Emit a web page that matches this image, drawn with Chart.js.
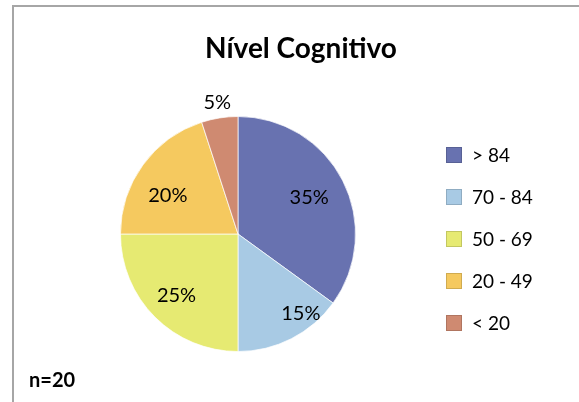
<!DOCTYPE html>
<html lang="pt">
<head>
  <meta charset="UTF-8">
  <title>Nível Cognitivo</title>
  <script src="https://cdn.jsdelivr.net/npm/chart.js"></script>
  <style>
    body {
      margin: 0;
      background: #fff;
      font-family: 'Lato', sans-serif;
    }

    #frame {
      position: absolute;
      left: 12px;
      top: 5px;
      width: 600px;
      height: 420px;
      border-top: 2px solid #a6a6a6;
      border-left: 2px solid #a6a6a6;
    }

    #chartContainer {
      position: absolute;
      left: 0;
      top: 0;
      width: 579px;
      height: 402px;
    }

    #title {
      position: absolute;
      left: 0;
      width: 602px;
      top: 30px;
      text-align: center;
      font-size: 28px;
      font-weight: 700;
      color: #000;
    }

    #note {
      position: absolute;
      left: 29px;
      top: 367px;
      font-size: 20px;
      font-weight: 700;
      color: #000;
    }
  </style>
</head>
<body>

  <div id="frame"></div>
  <div id="chartContainer">
    <canvas id="pieChart"></canvas>
  </div>
  <div id="title">Nível Cognitivo</div>
  <div id="note">n=20</div>

  <script>
    const categories = ['> 84', '70 - 84', '50 - 69', '20 - 49', '< 20'];
    const shares = [35, 15, 25, 20, 5];
    const sliceColors = ['#6872b0', '#a8cae4', '#e6ea72', '#f5c95f', '#cf8a71'];
    // distance of each percentage label from the centre, as a share of the radius
    const labelDistance = [0.68, 0.86, 0.74, 0.68, 1.13];

    // percentage labels on / beside the slices
    const sliceLabels = {
      id: 'sliceLabels',
      afterDatasetsDraw(chart) {
        const ctx = chart.ctx;
        const meta = chart.getDatasetMeta(0);
        ctx.save();
        ctx.font = '20px Lato';
        ctx.fillStyle = '#000';
        ctx.textAlign = 'center';
        ctx.textBaseline = 'middle';
        meta.data.forEach((arc, i) => {
          const mid = (arc.startAngle + arc.endAngle) / 2;
          const r = arc.outerRadius * labelDistance[i];
          let angle = mid;
          if (i === 1) angle -= 0.2;
          if (i === 3) angle -= 0.13;
          const x = arc.x + Math.cos(angle) * r;
          const y = arc.y + Math.sin(angle) * r;
          ctx.fillText(shares[i] + '%', x, y);
        });
        ctx.restore();
      }
    };

    // legend drawn on the right, one row per category
    const sideLegend = {
      id: 'sideLegend',
      afterDraw(chart) {
        const ctx = chart.ctx;
        ctx.save();
        ctx.font = '19px Lato';
        ctx.textBaseline = 'middle';
        categories.forEach((name, i) => {
          const y = 155 + i * 42;
          ctx.fillStyle = sliceColors[i];
          ctx.fillRect(446, y - 8, 16, 16);
          ctx.strokeStyle = 'rgba(0,0,0,0.15)';
          ctx.strokeRect(446.5, y - 7.5, 15, 15);
          ctx.fillStyle = '#000';
          ctx.fillText(name, 472, y + 1);
        });
        ctx.restore();
      }
    };

    const ctx = document.getElementById('pieChart').getContext('2d');

    new Chart(ctx, {
      type: 'pie',
      data: {
        labels: categories,
        datasets: [{
          data: shares,
          backgroundColor: sliceColors,
          borderColor: 'rgba(255,255,255,0.7)',
          borderWidth: 1
        }]
      },
      options: {
        responsive: true,
        maintainAspectRatio: false,
        animation: false,
        layout: {
          padding: { left: 120, right: 223, top: 116, bottom: 50 }
        },
        plugins: {
          legend: { display: false },
          tooltip: { enabled: false }
        }
      },
      plugins: [sliceLabels, sideLegend]
    });
  </script>

</body>
</html>
